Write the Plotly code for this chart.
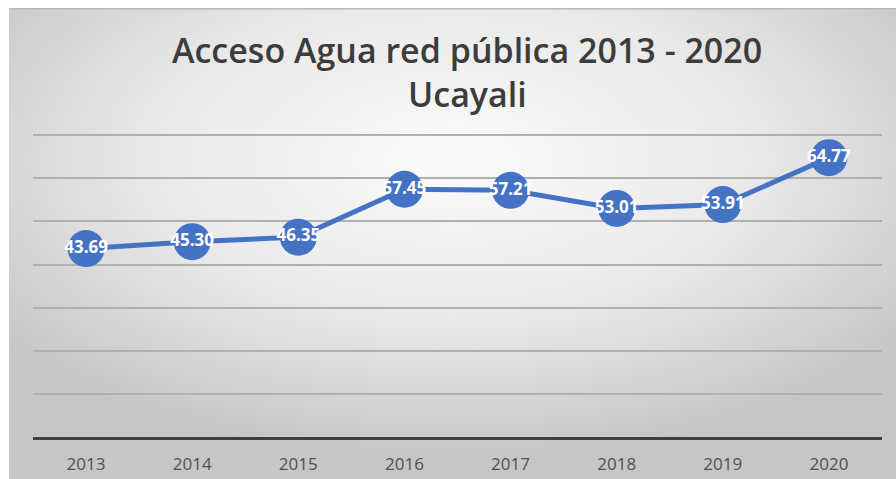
import base64
import plotly.graph_objects as go

# Cobertura de acceso a agua por red pública, región Ucayali (%)
years = ["2013", "2014", "2015", "2016", "2017", "2018", "2019", "2020"]
coverage = [43.69, 45.30, 46.35, 57.45, 57.21, 53.01, 53.91, 64.77]
labels = [f"{v:.2f}" for v in coverage]

title_line1 = "Acceso Agua red pública 2013 - 2020"
title_line2 = "Ucayali"

W, H = 896, 479
ML, MR, MT, MB = 33, 14, 133, 42
plot_w = W - ML - MR
plot_h = H - MT - MB
Y_MAX = 70.5

# Radial gradient card background (Excel-style chart area)
svg = """<svg xmlns='http://www.w3.org/2000/svg' width='887' height='471' viewBox='0 0 887 471' preserveAspectRatio='none'>
<defs><radialGradient id='g' cx='50%' cy='32%' r='64%' fx='50%' fy='32%'>
<stop offset='0' stop-color='#fbfbfb'/>
<stop offset='0.55' stop-color='#e8e8e8'/>
<stop offset='1' stop-color='#c6c6c6'/>
</radialGradient></defs>
<rect width='887' height='471' fill='url(#g)'/>
<rect x='0' y='0' width='887' height='1.5' fill='#b8b8b8'/>
</svg>"""
bg_src = "data:image/svg+xml;base64," + base64.b64encode(svg.encode()).decode()

card_x0, card_y0 = 9, 8


def px_to_paper_x(px):
    return (px - ML) / plot_w


def px_to_paper_y(py):
    return (H - MB - py) / plot_h


title_x = px_to_paper_x(467)

fig = go.Figure()

fig.add_trace(go.Scatter(
    x=years,
    y=coverage,
    mode="lines+markers+text",
    line=dict(color="#4472C4", width=5),
    marker=dict(color="#4472C4", size=37, line=dict(width=0)),
    text=labels,
    textposition="middle center",
    textfont=dict(family="Open Sans", size=17, color="white", weight=700),
    hoverinfo="x+y",
    showlegend=False,
    cliponaxis=False,
))

fig.add_layout_image(dict(
    source=bg_src,
    xref="paper", yref="paper",
    x=px_to_paper_x(card_x0), y=px_to_paper_y(card_y0),
    sizex=(W - card_x0) / plot_w, sizey=(H - card_y0) / plot_h,
    xanchor="left", yanchor="top",
    sizing="stretch", layer="below",
))

for txt, ypx in [(title_line1, 50), (title_line2, 94)]:
    fig.add_annotation(
        text=txt, xref="paper", yref="paper",
        x=title_x, y=px_to_paper_y(ypx),
        showarrow=False, xanchor="center", yanchor="middle",
        font=dict(family="Open Sans", size=34, color="#3c3c3c", weight=600),
    )

fig.update_xaxes(
    type="category",
    range=[-0.5, 7.5],
    showgrid=False,
    showline=True, linecolor="#404040", linewidth=3,
    ticks="", ticklabelstandoff=10,
    tickfont=dict(family="Open Sans", size=17, color="#505050"),
    zeroline=False, fixedrange=True, automargin=False,
)
fig.update_yaxes(
    range=[0, Y_MAX],
    dtick=10,
    showgrid=True, gridcolor="#b0b0b0", gridwidth=1.5,
    showticklabels=False, showline=False, zeroline=False,
    fixedrange=True, automargin=False,
)

fig.update_layout(
    width=W, height=H,
    margin=dict(l=ML, r=MR, t=MT, b=MB, pad=0, autoexpand=False),
    paper_bgcolor="white",
    plot_bgcolor="rgba(0,0,0,0)",
)

fig.write_html("out.html")
